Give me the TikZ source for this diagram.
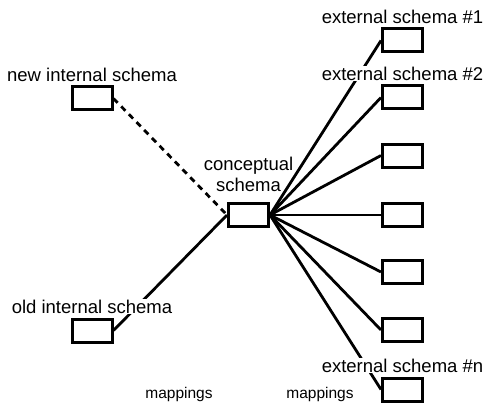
\documentclass[tikz,border=0pt]{standalone}
\usepackage{fontspec}
\setmainfont{Liberation Sans}
\usetikzlibrary{positioning}

\begin{document}
\begin{tikzpicture}[
    x=1pt, y=-1pt,
    box/.style={rectangle, draw, line width=3pt, minimum width=40pt, minimum height=23pt, inner sep=0pt},
    lbl/.style={fill=white, inner sep=1pt, font=\fontsize{18.5}{21}\selectfont, align=center},
    small/.style={inner sep=0pt, font=\fontsize{15.5}{18}\selectfont},
    link/.style={line width=2.8pt},
    node distance=3pt,
]
\useasboundingbox (0,0) rectangle (485,404);

% internal schemas
\node[box] (newint) at (92,98.5) {};
\node[box] (oldint) at (92,330.5) {};

% conceptual schema
\node[box] (concept) at (248.5,215) {};

% external schemas
\node[box] (ext1) at (402.5,40.5) {};
\node[box] (ext2) at (402.5,97.5) {};
\node[box] (ext3) at (402.5,155.5) {};
\node[box] (ext4) at (402.5,215) {};
\node[box] (ext5) at (402.5,272) {};
\node[box] (ext6) at (402.5,330) {};
\node[box] (ext7) at (402.5,389.5) {};

% mappings
\draw[link, dash pattern=on 6pt off 5pt] (newint.east) -- (concept.west);
\draw[link] (oldint.east) -- (concept.west);
\foreach \e in {ext1,ext2,ext3,ext4,ext5,ext6,ext7}
    \draw[link] (concept.east) -- (\e.west);

% labels
\node[lbl, above=of newint] {new internal schema};
\node[lbl, above=of oldint] {old internal schema};
\node[lbl, fill=none, above=9pt of concept] {conceptual\\schema};
\node[lbl, above=of ext1] {external schema \#1};
\node[lbl, above=of ext2] {external schema \#2};
\node[lbl, above=of ext7] {external schema \#n};

\node[small] (mapl) at (179,394) {mappings};
\node[small] (mapr) at (320,394) {mappings};

\end{tikzpicture}
\end{document}
